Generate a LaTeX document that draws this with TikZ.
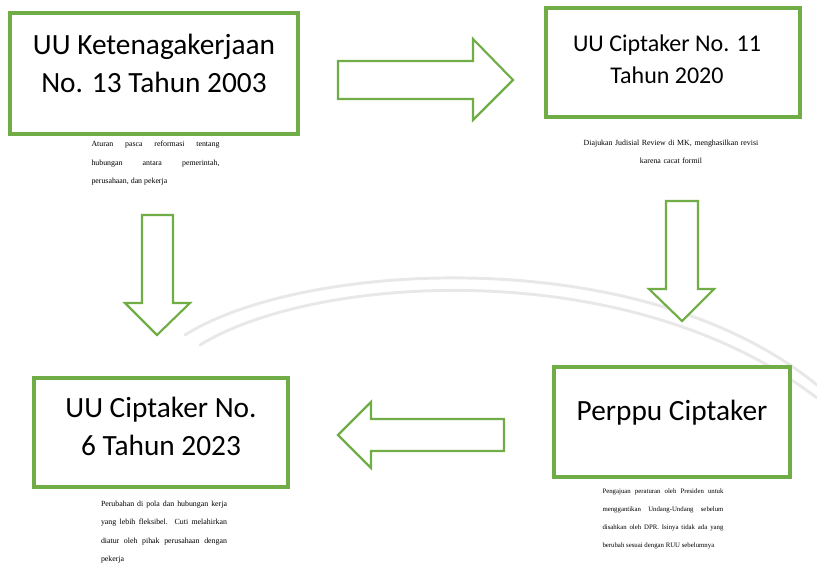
\documentclass[tikz,border=0pt]{standalone}
\usepackage{fontspec}
\setmainfont{Liberation Serif}
\newfontfamily\boxfont{Carlito}
\newcommand\nohyph{\hyphenpenalty=10000\relax\exhyphenpenalty=10000\relax}
\definecolor{officegreen}{HTML}{70AD47}
\definecolor{wmgray}{HTML}{E8E8E8}
\tikzset{
  greenbox/.style={draw=officegreen, line width=2.6pt, fill=white, rectangle, inner sep=0pt},
  bigtext/.style={font=\boxfont\fontsize{22}{28.5}\selectfont, align=center, inner sep=0pt},
  midtext/.style={font=\boxfont\fontsize{18}{24}\selectfont, align=center, inner sep=0pt},
  smalltext/.style={font=\fontsize{5.9}{13.7}\selectfont, inner sep=0pt, anchor=north},
  tinytext/.style={font=\fontsize{5.1}{13.5}\selectfont, inner sep=0pt, anchor=north},
  blockarrow/.style={draw=officegreen, line width=1.6pt, fill=white, line join=miter},
  watermark/.style={draw=wmgray, line width=2.2pt, line cap=round}
}
\begin{document}
\begin{tikzpicture}[x=0.75pt,y=-0.75pt]
\useasboundingbox (0,0) rectangle (817,563);
% faint watermark
\draw[watermark] (185,335) .. controls (300,262) and (640,240) .. (817,385);
\draw[watermark] (200,345) .. controls (315,274) and (630,254) .. (817,398);
% boxes
\node[greenbox, minimum width=288*0.75pt, minimum height=121*0.75pt] (b1) at (154,73.5) {};
\node[greenbox, minimum width=254*0.75pt, minimum height=109*0.75pt] (b2) at (673,62.5) {};
\node[greenbox, minimum width=254*0.75pt, minimum height=109*0.75pt] (b3) at (161,432.5) {};
\node[greenbox, minimum width=236*0.75pt, minimum height=110*0.75pt] (b4) at (672,422) {};
% box texts
\node[bigtext] (t1) at (154,63) {UU Ketenagakerjaan\\No. 13 Tahun 2003};
\node[midtext] (t2) at (667,59) {UU Ciptaker No. 11\\Tahun 2020};
\node[bigtext] (t3) at (161,426) {UU Ciptaker No.\\6 Tahun 2023};
\node[bigtext] (t4) at (672,413) {Perppu Ciptaker};
% small texts
\node[smalltext, text width=128*0.75pt, align=justify] (d1) at (155.5,141) {\nohyph Aturan pasca reformasi tentang\linebreak hubungan antara pemerintah,\linebreak perusahaan, dan pekerja};
\node[smalltext, text width=190*0.75pt, align=center] (d2) at (671,140) {\nohyph Diajukan Judisial Review di MK, menghasilkan revisi\\karena cacat formil};
\node[smalltext, text width=126*0.75pt, align=justify] (d3) at (164,501) {\nohyph Perubahan di pola dan hubungan kerja\linebreak yang lebih fleksibel. Cuti melahirkan\linebreak diatur oleh pihak perusahaan dengan\linebreak pekerja};
\node[tinytext, text width=121*0.75pt, align=justify] (d4) at (663,489) {\nohyph Pengajuan peraturan oleh Presiden untuk\linebreak menggantikan Undang-Undang sebelum\linebreak disahkan oleh DPR. Isinya tidak ada yang\linebreak berubah sesuai dengan RUU sebelumnya};
% block arrows
\draw[blockarrow] (338,61) -- (473,61) -- (473,39) -- (513,80) -- (473,120) -- (473,99) -- (338,99) -- cycle;
\draw[blockarrow] (142,215) -- (173,215) -- (173,303) -- (190,303) -- (157,335) -- (125,303) -- (142,303) -- cycle;
\draw[blockarrow] (666,201) -- (698,201) -- (698,289) -- (714,289) -- (682,321) -- (649,289) -- (666,289) -- cycle;
\draw[blockarrow] (504,419) -- (371,419) -- (371,402) -- (338,435) -- (371,468) -- (371,451) -- (504,451) -- cycle;
\end{tikzpicture}
\end{document}
